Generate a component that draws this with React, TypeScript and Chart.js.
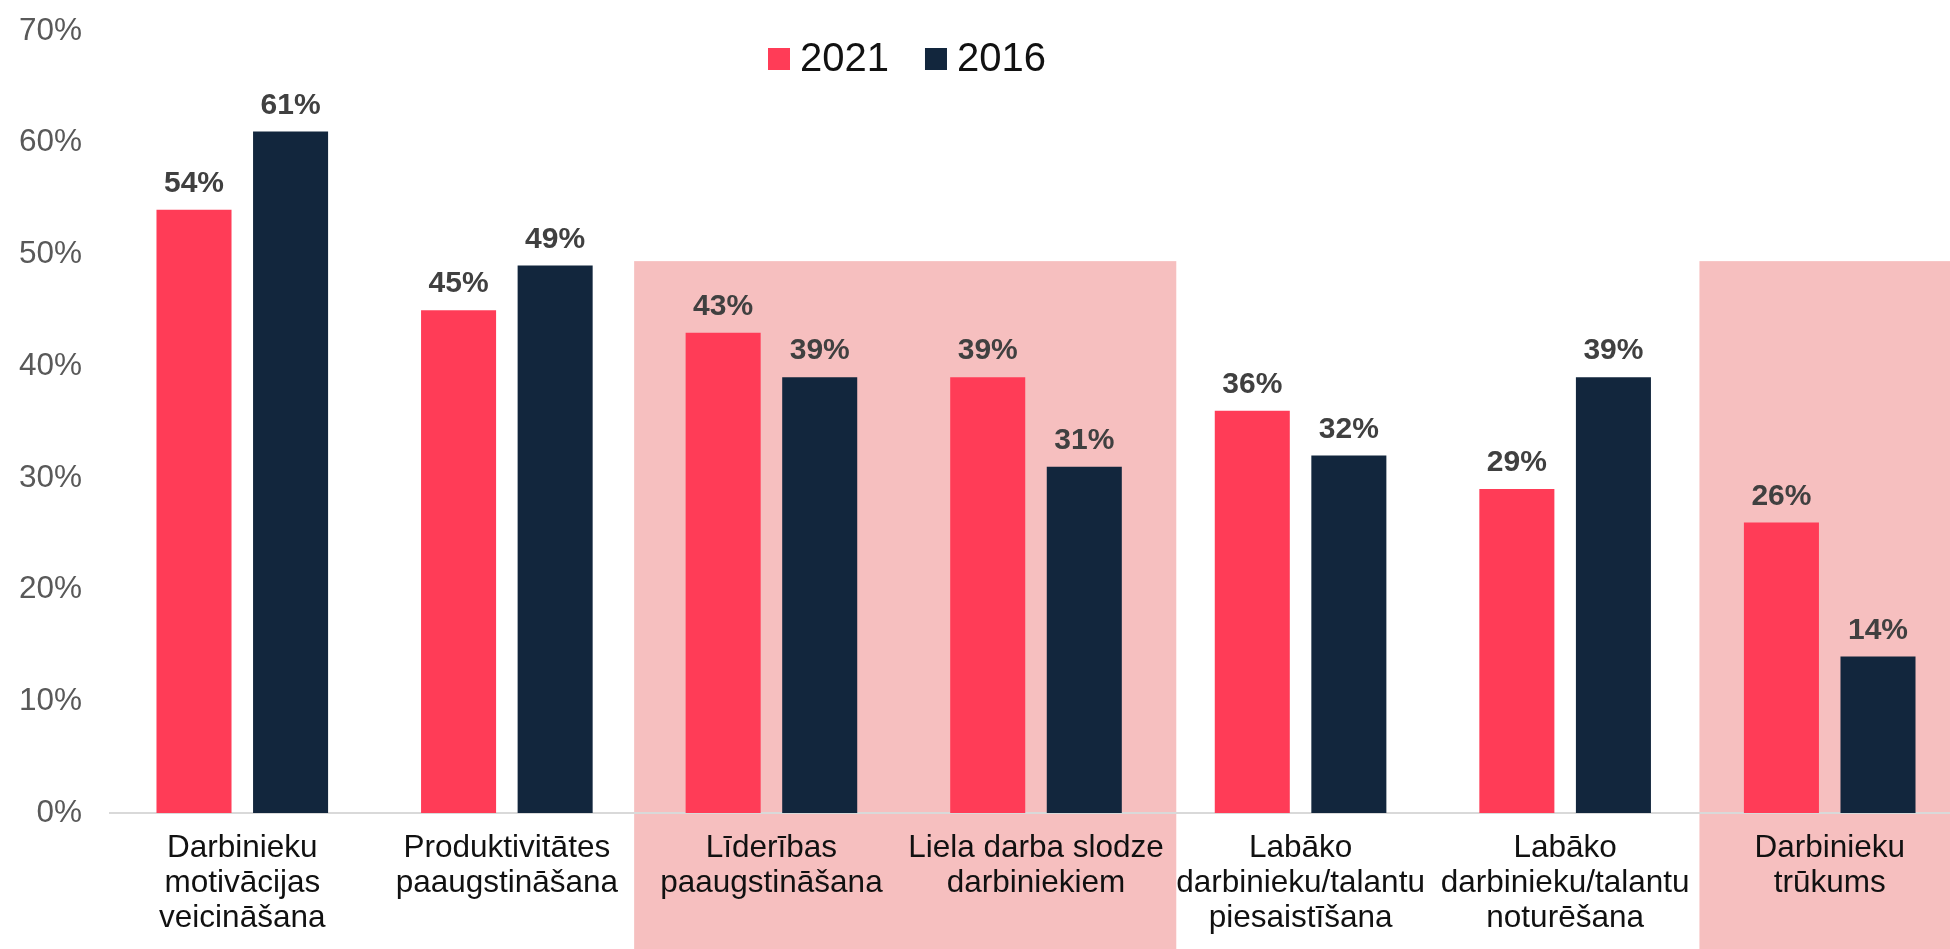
import React, { useEffect, useRef } from "react";
import { Chart, registerables } from "chart.js";

Chart.register(...registerables);

// ---------- data ----------
const categories: string[][] = [
  ["Darbinieku", "motivācijas", "veicināšana"],
  ["Produktivitātes", "paaugstināšana"],
  ["Līderības", "paaugstināšana"],
  ["Liela darba slodze", "darbiniekiem"],
  ["Labāko", "darbinieku/talantu", "piesaistīšana"],
  ["Labāko", "darbinieku/talantu", "noturēšana"],
  ["Darbinieku", "trūkums"],
];
const seriesNames = ["2021", "2016"];
const values2021 = [54, 45, 43, 39, 36, 29, 26];
const values2016 = [61, 49, 39, 31, 32, 39, 14];
const yMin = 0;
const yMax = 70;
const yStep = 10;
// highlighted category ranges (first index, last index) and the value level of the box top
const highlightRanges: [number, number][] = [
  [2, 3],
  [6, 6],
];
const highlightTopValue = 49.4;

// ---------- styles ----------
const RED = "#FF3C57";
const NAVY = "#12263D";
const PINK = "#F6BFBF";
const FONT = "'Liberation Sans', Arial, sans-serif";

const highlightPlugin = {
  id: "highlightBoxes",
  beforeDraw(chart: any) {
    const { ctx, scales, width, height } = chart;
    const x = scales.x;
    const y = scales.y;
    const catW = x.getPixelForValue(1) - x.getPixelForValue(0);
    const top = y.getPixelForValue(highlightTopValue);
    ctx.save();
    ctx.fillStyle = PINK;
    highlightRanges.forEach(([a, b], i) => {
      const padL = i === 0 ? 5 : -2;
      const left = x.getPixelForValue(a) - catW / 2 - padL;
      const isLast = b === categories.length - 1;
      const right = isLast ? width : x.getPixelForValue(b) + catW / 2 + 8;
      ctx.fillRect(left, top, right - left, height - top);
    });
    ctx.restore();
  },
};

const valueLabelPlugin = {
  id: "valueLabels",
  afterDatasetsDraw(chart: any) {
    const { ctx } = chart;
    ctx.save();
    ctx.font = `bold 30px ${FONT}`;
    ctx.fillStyle = "#404040";
    ctx.textAlign = "center";
    ctx.textBaseline = "alphabetic";
    chart.data.datasets.forEach((ds: any, di: number) => {
      const meta = chart.getDatasetMeta(di);
      meta.data.forEach((el: any, i: number) => {
        ctx.fillText(`${ds.data[i]}%`, el.x, el.y - 18);
      });
    });
    ctx.restore();
  },
};

const legendPlugin = {
  id: "customLegend",
  afterDraw(chart: any) {
    const { ctx } = chart;
    ctx.save();
    ctx.font = `40px ${FONT}`;
    ctx.textBaseline = "middle";
    ctx.textAlign = "left";
    let xPos = 768;
    const yMid = 59;
    const box = 22;
    chart.data.datasets.forEach((ds: any) => {
      ctx.fillStyle = ds.backgroundColor;
      ctx.fillRect(xPos, yMid - box / 2, box, box);
      xPos += box + 10;
      ctx.fillStyle = "#111111";
      ctx.fillText(ds.label, xPos, yMid + 1);
      xPos += ctx.measureText(ds.label).width + 36;
    });
    ctx.restore();
  },
};

export default function App() {
  const canvasRef = useRef<HTMLCanvasElement | null>(null);

  useEffect(() => {
    if (!canvasRef.current) return;
    const chart = new Chart(canvasRef.current, {
      type: "bar",
      data: {
        labels: categories,
        datasets: [
          {
            label: seriesNames[0],
            data: values2021,
            backgroundColor: RED,
            borderWidth: 0,
            barPercentage: 0.777,
            categoryPercentage: 0.73,
          },
          {
            label: seriesNames[1],
            data: values2016,
            backgroundColor: NAVY,
            borderWidth: 0,
            barPercentage: 0.777,
            categoryPercentage: 0.73,
          },
        ],
      },
      options: {
        responsive: false,
        animation: false,
        devicePixelRatio: 1,
        layout: {
          padding: { top: 31, left: 0, right: 8, bottom: 0 },
        },
        plugins: {
          legend: { display: false },
          tooltip: { enabled: false },
          title: { display: false },
        },
        scales: {
          x: {
            grid: { display: false, drawTicks: false },
            border: { display: true, color: "#D9D9D9", width: 2 },
            ticks: {
              color: "#111111",
              padding: 17.5,
              maxRotation: 0,
              autoSkip: false,
              font: { family: FONT, size: 31.5, lineHeight: 35 / 31.5 },
            },
            afterFit: (scale: any) => {
              scale.paddingLeft = 0;
              scale.paddingRight = 0;
              scale.height = 136;
            },
          },
          y: {
            min: yMin,
            max: yMax,
            grid: { display: false, drawTicks: false },
            border: { display: false },
            ticks: {
              stepSize: yStep,
              color: "#595959",
              padding: 28,
              font: { family: FONT, size: 31.5 },
              callback: (v: any) => `${v}%`,
            },
            afterFit: (scale: any) => {
              scale.paddingTop = 0;
              scale.paddingBottom = 0;
              scale.width = 110;
            },
          },
        },
      },
      plugins: [highlightPlugin, valueLabelPlugin, legendPlugin],
    });
    return () => chart.destroy();
  }, []);

  return (
    <div
      style={{
        position: "fixed",
        left: 0,
        top: 0,
        width: 1950,
        height: 949,
        overflow: "hidden",
        background: "#ffffff",
      }}
    >
      <canvas ref={canvasRef} width={1970} height={949} style={{ display: "block" }} />
    </div>
  );
}
